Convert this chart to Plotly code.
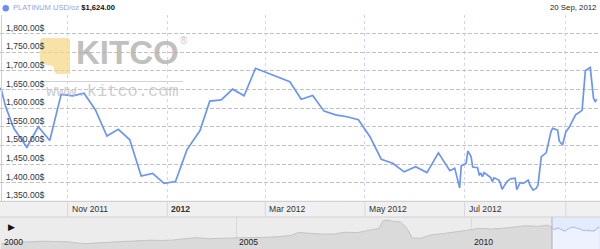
import plotly.graph_objects as go

# ---------------- data ----------------
dates = ["2011-09-21","2011-09-24","2011-09-29","2011-10-07","2011-10-14","2011-10-21","2011-10-28",
         "2011-11-04","2011-11-11","2011-11-18","2011-11-25","2011-12-02","2011-12-09","2011-12-16",
         "2011-12-23","2011-12-30","2012-01-06","2012-01-13","2012-01-21","2012-01-27","2012-02-03",
         "2012-02-10","2012-02-17","2012-02-24","2012-03-16","2012-03-23","2012-03-30","2012-04-06",
         "2012-04-13","2012-04-20","2012-04-27","2012-05-04","2012-05-11","2012-05-18","2012-05-25",
         "2012-06-01","2012-06-08","2012-06-15","2012-06-22","2012-06-25","2012-06-28","2012-06-29",
         "2012-07-02","2012-07-03","2012-07-05","2012-07-06","2012-07-09","2012-07-10","2012-07-11",
         "2012-07-12","2012-07-13","2012-07-16","2012-07-17","2012-07-18","2012-07-19","2012-07-22",
         "2012-07-23","2012-07-24","2012-07-27","2012-07-29","2012-07-31","2012-08-01","2012-08-02",
         "2012-08-04","2012-08-06","2012-08-09","2012-08-10","2012-08-12","2012-08-14","2012-08-15",
         "2012-08-17","2012-08-20","2012-08-23","2012-08-24","2012-08-27","2012-08-28","2012-08-30",
         "2012-09-01","2012-09-03","2012-09-05","2012-09-07","2012-09-11","2012-09-13","2012-09-16",
         "2012-09-18","2012-09-19","2012-09-20"]
prices = [1655,1604,1546,1495,1550,1513,1637,
          1633,1640,1595,1525,1543,1515,1418,
          1425,1398,1403,1488,1540,1619,1622,
          1651,1633,1707,1671,1624,1634,1592,
          1582,1577,1569,1524,1463,1452,1429,
          1443,1427,1480,1432,1439,1386,1445,
          1452,1485,1470,1442,1440,1421,1425,
          1416,1427,1416,1414,1403,1413,1407,
          1398,1382,1403,1410,1412,1412,1381,
          1400,1398,1407,1394,1380,1385,1394,
          1470,1480,1538,1546,1541,1512,1501,
          1536,1548,1566,1582,1594,1701,1709,
          1626,1618,1624]

y_ticks = [1350, 1400, 1450, 1500, 1550, 1600, 1650, 1700, 1750, 1800]
month_ticks = ["2011-11-01", "2012-01-01", "2012-03-01", "2012-05-01", "2012-07-01", "2012-09-01"]
month_labels = ["Nov 2011", "2012", "Mar 2012", "May 2012", "Jul 2012"]
month_bold = [False, True, False, False, False]

ov_dates = ["2000-01-01","2000-04-01","2000-08-01","2000-12-01","2001-03-01","2001-06-01","2001-09-01",
            "2001-11-01","2002-03-01","2002-06-01","2002-09-01","2002-12-01","2003-03-01","2003-06-01",
            "2003-09-01","2003-12-01","2004-03-01","2004-06-01","2004-09-01","2004-12-01","2005-03-01",
            "2005-06-01","2005-09-01","2005-12-01","2006-03-01","2006-05-01","2006-08-01","2006-11-01",
            "2007-02-01","2007-05-01","2007-08-01","2007-11-01","2008-01-15","2008-02-15","2008-03-10",
            "2008-05-01","2008-07-01","2008-08-20","2008-10-01","2008-12-01","2009-03-01","2009-06-01",
            "2009-09-01","2009-12-01","2010-03-01","2010-06-01","2010-09-01","2010-12-01","2011-03-01",
            "2011-06-01","2011-08-15","2011-09-21"]
ov_prices = [430,500,560,600,590,560,440,
             420,500,540,550,590,680,660,
             700,800,880,800,850,850,870,
             880,910,960,1040,1280,1220,1150,
             1160,1300,1270,1450,1600,2150,2250,
             2150,2100,1600,850,830,1100,1200,
             1300,1450,1600,1550,1600,1700,1800,
             1750,1850,1700]
ov_year_labels = ["2000", "2005", "2010"]
ov_year_dates = ["2000-01-01", "2005-01-01", "2010-01-01"]

legend_name = "PLATINUM USD/oz"
legend_value = "$1,624.00"
date_label = "20 Sep, 2012"

# ---------------- layout helpers ----------------
W, H = 600, 249
def px(x): return x / W
def py(y): return 1 - y / H

MAIN_BOTTOM = py(201.3)
MAIN_TOP = py(15)
OV_TOP = py(217)

LINE = "#6a95f6"
FONT = "Liberation Sans, Arial, sans-serif"

fig = go.Figure()

# overview gray area
fig.add_trace(go.Scatter(x=ov_dates, y=ov_prices, xaxis="x2", yaxis="y2", mode="lines",
                         line=dict(color="#c4c4c4", width=1), fill="tozeroy",
                         fillcolor="#dadada", hoverinfo="skip", showlegend=False))
# overview selected part
fig.add_trace(go.Scatter(x=dates, y=prices, xaxis="x2", yaxis="y2", mode="lines",
                         line=dict(color="#9fb7f4", width=1), fill="tozeroy",
                         fillcolor="#eef2fe", hoverinfo="skip", showlegend=False))
# main line
fig.add_trace(go.Scatter(x=dates, y=prices, mode="lines",
                         line=dict(color=LINE, width=1.7), hoverinfo="skip", showlegend=False))

shapes = []
shapes.append(dict(type="rect", xref="paper", yref="paper", x0=0, x1=1, y0=0, y1=OV_TOP,
                   fillcolor="#ececec", line=dict(width=0), layer="below"))
shapes.append(dict(type="rect", xref="x2", yref="paper", x0=dates[0], x1="2012-09-30", y0=0, y1=OV_TOP,
                   fillcolor="#e4ebfd", line=dict(width=0), layer="below"))
shapes.append(dict(type="line", xref="x2", yref="paper", x0=dates[0], x1=dates[0], y0=0, y1=OV_TOP,
                   line=dict(color="#b0b0b0", width=1)))
shapes.append(dict(type="rect", xref="paper", yref="paper", x0=0, x1=1, y0=OV_TOP, y1=MAIN_BOTTOM,
                   fillcolor="#f0f0f0", line=dict(width=0), layer="below"))
shapes.append(dict(type="line", xref="paper", yref="paper", x0=0, x1=1, y0=OV_TOP, y1=OV_TOP,
                   line=dict(color="#d2d2d2", width=1)))
shapes.append(dict(type="line", xref="paper", yref="paper", x0=0, x1=1, y0=MAIN_BOTTOM, y1=MAIN_BOTTOM,
                   line=dict(color="#c8c8c8", width=1)))
for m in month_ticks:
    shapes.append(dict(type="line", xref="x", yref="paper", x0=m, x1=m, y0=OV_TOP, y1=MAIN_BOTTOM,
                       line=dict(color="#d6d6e4", width=1)))
shapes.append(dict(type="line", xref="paper", yref="paper", x0=px(1.5), x1=px(1.5), y0=MAIN_BOTTOM, y1=MAIN_TOP,
                   line=dict(color="#d0d0d0", width=1)))
shapes.append(dict(type="circle", xref="paper", yref="paper", x0=px(2.5), x1=px(9), y0=py(11.5), y1=py(5),
                   fillcolor="#6b8ef2", line=dict(width=0)))
logo = [(40, 40), (42, 38), (68, 38), (70, 40), (70, 74), (56, 74), (53, 66), (42, 64), (40, 62)]
path = "M " + " L ".join(f"{px(a):.5f},{py(b):.5f}" for a, b in logo) + " Z"
shapes.append(dict(type="path", xref="paper", yref="paper", path=path,
                   fillcolor="rgba(247,215,135,0.72)", line=dict(width=0), layer="above"))
shapes.append(dict(type="line", xref="paper", yref="paper", x0=px(42), x1=px(183), y0=py(81.5), y1=py(81.5),
                   line=dict(color="#d2d2d2", width=1)))

ann = []
for v in y_ticks:
    ann.append(dict(x=px(4), xref="paper", y=v, yref="y", yanchor="bottom", xanchor="left",
                    text=f"{v:,.2f}$", showarrow=False, yshift=-1,
                    font=dict(family=FONT, size=8.6, color="#333333")))
for m, lab, b in zip(month_ticks, month_labels, month_bold):
    ann.append(dict(x=m, xref="x", y=(OV_TOP + MAIN_BOTTOM) / 2, yref="paper", xanchor="left",
                    yanchor="middle", xshift=2, showarrow=False,
                    text=f"<b>{lab}</b>" if b else lab,
                    font=dict(family=FONT, size=8.6, color="#333333")))
for d, lab in zip(ov_year_dates, ov_year_labels):
    ann.append(dict(x=d, xref="x2", y=py(242), yref="paper", xanchor="left", yanchor="middle",
                    xshift=1, showarrow=False, text=lab,
                    font=dict(family=FONT, size=8.6, color="#222222")))
ann.append(dict(x=px(6), xref="paper", y=py(227), yref="paper", xanchor="left", yanchor="middle",
                showarrow=False, text="▶", font=dict(family="DejaVu Sans", size=9, color="#111111")))
ann.append(dict(x=px(11), xref="paper", y=py(8), yref="paper", xanchor="left", yanchor="middle",
                showarrow=False, text=f"<span style='color:#90a5ef'>{legend_name}</span> <b>{legend_value}</b>",
                font=dict(family=FONT, size=7.6, color="#111111")))
ann.append(dict(x=px(598), xref="paper", y=py(8), yref="paper", xanchor="right", yanchor="middle",
                showarrow=False, text=date_label, font=dict(family=FONT, size=7.8, color="#222222")))
ann.append(dict(x=px(74), xref="paper", y=py(53), yref="paper", xanchor="left", yanchor="middle",
                showarrow=False, text="<b>KITCO</b>",
                font=dict(family="Liberation Sans Narrow, Liberation Sans, Arial", size=33,
                          color="rgba(175,175,175,0.8)")))
ann.append(dict(x=px(178), xref="paper", y=py(40), yref="paper", xanchor="left", yanchor="middle",
                showarrow=False, text="®", font=dict(family=FONT, size=10, color="rgba(175,175,175,0.8)")))
ann.append(dict(x=px(44), xref="paper", y=py(92), yref="paper", xanchor="left", yanchor="middle",
                showarrow=False, text="www.kitco.com",
                font=dict(family="Liberation Mono, DejaVu Sans Mono, monospace", size=17,
                          color="rgba(190,190,190,0.75)")))

fig.update_layout(
    width=W, height=H, margin=dict(l=0, r=0, t=0, b=0),
    paper_bgcolor="white", plot_bgcolor="rgba(0,0,0,0)",
    showlegend=False, shapes=shapes, annotations=ann,
    xaxis=dict(domain=[0, 1], range=["2011-09-20 13:00", "2012-09-21 23:00"], type="date",
               tickvals=month_ticks, showticklabels=False, showgrid=True, gridcolor="#d2d2fa",
               griddash="3px,3px", gridwidth=1, zeroline=False, showline=False, ticks=""),
    yaxis=dict(domain=[MAIN_BOTTOM, MAIN_TOP], range=[1350, 1850], tickvals=y_ticks + [1850],
               showticklabels=False, showgrid=True, gridcolor="#c2c2c2", griddash="4px,2px",
               gridwidth=1, zeroline=False, showline=False, ticks=""),
    xaxis2=dict(domain=[0, 1], range=["1999-12-24", "2012-09-28"], type="date", anchor="y2",
                tickvals=["2005-01-01", "2010-01-01"], showticklabels=False, showgrid=True,
                gridcolor="#dadada", gridwidth=1, zeroline=False, showline=False, ticks=""),
    yaxis2=dict(domain=[0, OV_TOP], range=[0, 2480], anchor="x2", showticklabels=False,
                showgrid=False, zeroline=False, showline=False, ticks=""),
)

fig.write_html("out.html")
